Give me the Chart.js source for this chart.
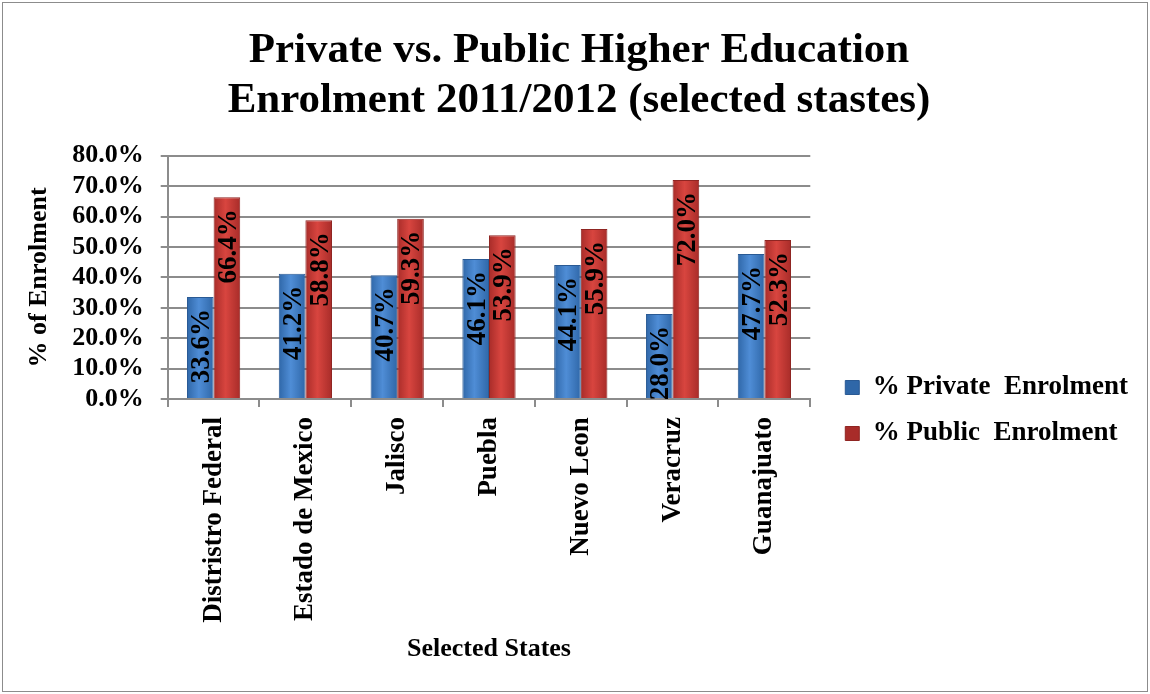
<!DOCTYPE html>
<html>
<head>
<meta charset="utf-8">
<script src="https://cdn.jsdelivr.net/npm/chart.js@4.4.4/dist/chart.umd.min.js"></script>
<style>
  body { margin: 0; background: #fff; }
  #wrap { position: absolute; left: 2px; top: 2px; width: 1144px; height: 688px; border: 1px solid #8c8c8c; }
</style>
</head>
<body>
<div id="wrap"><canvas id="chart" width="1144" height="688"></canvas></div>
<script>
const states = ['Distristro Federal', 'Estado de Mexico', 'Jalisco', 'Puebla', 'Nuevo Leon', 'Veracruz', 'Guanajuato'];
const privateEnrol = [33.6, 41.2, 40.7, 46.1, 44.1, 28.0, 47.7];
const publicEnrol = [66.4, 58.8, 59.3, 53.9, 55.9, 72.0, 52.3];
const seriesNames = ['% Private  Enrolment', '% Public  Enrolment'];

const serif = '"Liberation Serif", "Times New Roman", serif';

// shaded fill across each bar, like the bevelled Excel bars
function barFill(edge, mid) {
    return function (context) {
        const el = context.element;
        if (!el || !isFinite(el.x) || !isFinite(el.width)) return mid;
        const g = context.chart.ctx.createLinearGradient(el.x - el.width / 2, 0, el.x + el.width / 2, 0);
        g.addColorStop(0, edge);
        g.addColorStop(0.45, mid);
        g.addColorStop(1, edge);
        return g;
    };
}

// values written sideways inside the top of each bar
const barLabels = {
    id: 'barLabels',
    afterDatasetsDraw(chart) {
        const ctx = chart.ctx;
        ctx.save();
        ctx.font = 'bold 27px ' + serif;
        ctx.fillStyle = '#000';
        ctx.textAlign = 'right';
        ctx.textBaseline = 'middle';
        chart.data.datasets.forEach((ds, i) => {
            chart.getDatasetMeta(i).data.forEach((bar, j) => {
                ctx.save();
                ctx.translate(bar.x + 2, bar.y + 12);
                ctx.rotate(-Math.PI / 2);
                ctx.fillText(ds.data[j].toFixed(1) + '%', 0, 0);
                ctx.restore();
            });
        });
        ctx.restore();
    }
};

const chart = new Chart(document.getElementById('chart'), {
    type: 'bar',
    data: {
        labels: states,
        datasets: [
            {
                label: seriesNames[0],
                data: privateEnrol,
                backgroundColor: barFill('#2f67a8', '#4f8dd6'),
                borderColor: '#2a5a94',
                borderWidth: 1,
                categoryPercentage: 0.58,
                barPercentage: 1.0
            },
            {
                label: seriesNames[1],
                data: publicEnrol,
                backgroundColor: barFill('#a82c29', '#d8453f'),
                borderColor: '#8f2522',
                borderWidth: 1,
                categoryPercentage: 0.58,
                barPercentage: 1.0
            }
        ]
    },
    options: {
        responsive: false,
        animation: false,
        layout: { padding: { left: 17, right: 9, bottom: 22, top: 0 } },
        plugins: {
            title: {
                display: true,
                text: ['Private vs. Public Higher Education', 'Enrolment 2011/2012 (selected stastes)'],
                color: '#000',
                font: { family: serif, size: 43, weight: 'bold', lineHeight: 1.16 },
                padding: { top: 23, bottom: 30 }
            },
            legend: {
                position: 'right',
                align: 'start',
                maxWidth: 400,
                // empty title used only to push the entries down to mid-height
                title: { display: true, text: '', font: { size: 10, lineHeight: 1 }, padding: { top: 342, bottom: 0 } },
                labels: {
                    color: '#000',
                    font: { family: serif, size: 27, weight: 'bold' },
                    boxWidth: 14,
                    boxHeight: 14,
                    padding: 19
                }
            },
            tooltip: { enabled: false }
        },
        scales: {
            x: {
                grid: { display: true, drawOnChartArea: false, color: '#8c8c8c', lineWidth: 2, tickLength: 8 },
                border: { color: '#8c8c8c', width: 2 },
                ticks: {
                    color: '#000',
                    font: { family: serif, size: 27, weight: 'bold' },
                    minRotation: 90,
                    maxRotation: 90,
                    padding: 10
                },
                title: {
                    display: true,
                    text: 'Selected States',
                    color: '#000',
                    font: { family: serif, size: 26, weight: 'bold' },
                    padding: { top: 1 }
                }
            },
            y: {
                min: 0,
                max: 80,
                grid: { color: '#8c8c8c', lineWidth: 2, tickLength: 7 },
                border: { color: '#8c8c8c', width: 2 },
                ticks: {
                    stepSize: 10,
                    autoSkip: false,
                    color: '#000',
                    font: { family: serif, size: 26, weight: 'bold', lineHeight: 1 },
                    padding: 17,
                    callback: v => v.toFixed(1) + '%'
                },
                title: {
                    display: true,
                    text: '% of Enrolment',
                    color: '#000',
                    font: { family: serif, size: 26, weight: 'bold' },
                    padding: { bottom: 0 }
                }
            },
            // blank axis only to leave a gap between the plot and the legend
            gap: {
                position: 'right',
                grid: { display: false },
                border: { display: false },
                ticks: { display: false },
                afterFit: scale => { scale.width = 16; }
            }
        }
    },
    plugins: [barLabels]
});
// second pass so the bar gradients know where each bar sits
chart.update();
</script>
</body>
</html>
